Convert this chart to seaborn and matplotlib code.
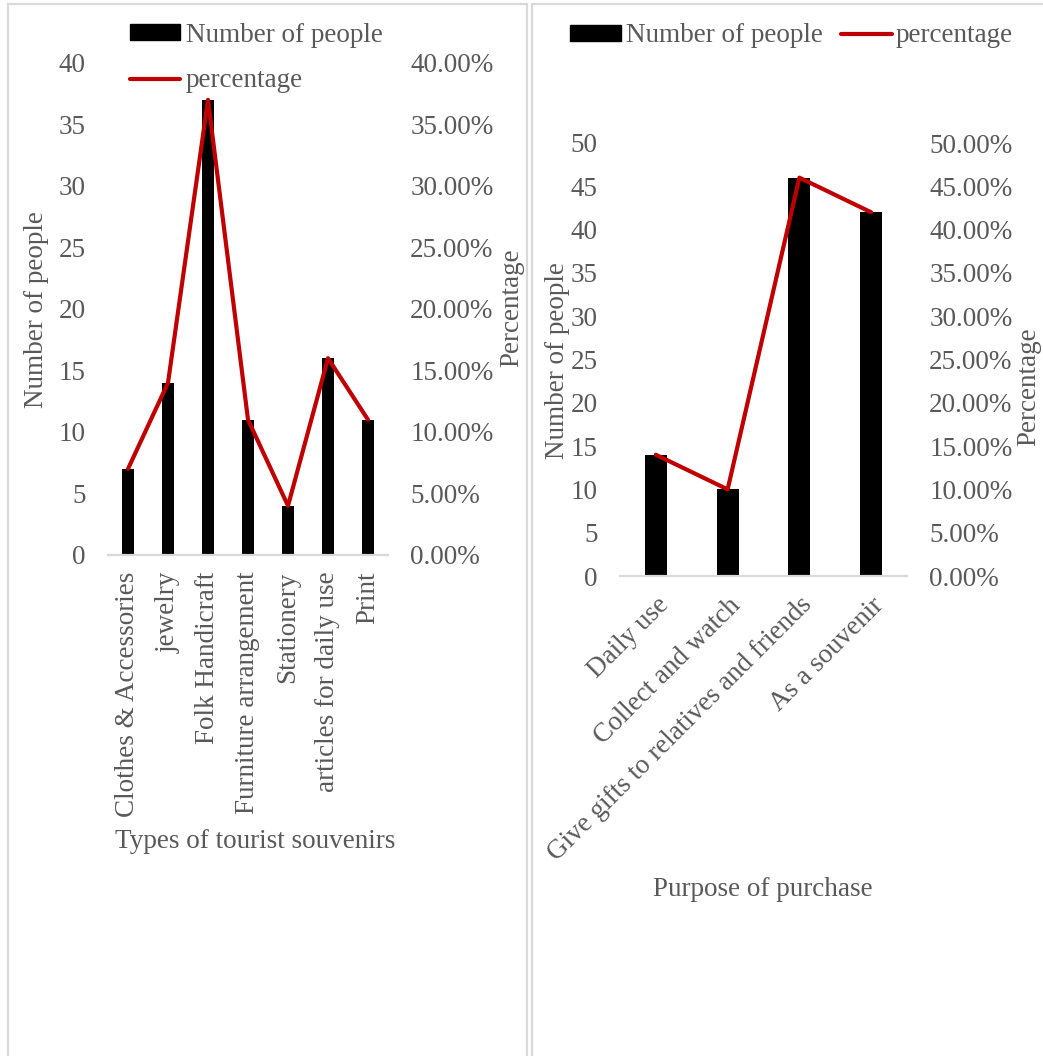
import numpy as np
import matplotlib.pyplot as plt
import seaborn as sns
from matplotlib.patches import Rectangle, Patch
from matplotlib.lines import Line2D
from matplotlib.ticker import PercentFormatter

souvenir_types = ["Clothes & Accessories", "jewelry", "Folk Handicraft",
                  "Furniture arrangement", "Stationery", "articles for daily use", "Print"]
souvenir_people = [7, 14, 37, 11, 4, 16, 11]
souvenir_pct = [0.07, 0.14, 0.37, 0.11, 0.04, 0.16, 0.11]

purposes = ["Daily use", "Collect and watch", "Give gifts to relatives and friends", "As a souvenir"]
purpose_people = [14, 10, 46, 42]
purpose_pct = [0.14, 0.10, 0.46, 0.42]

sns.set_theme(style="white")
plt.rcParams['font.family'] = ['Liberation Serif', 'DejaVu Serif']
plt.rcParams['font.size'] = 19.5
grey = '#595959'
red = '#C00000'
W, H = 1043, 1056

fig = plt.figure(figsize=(W / 100, H / 100), dpi=100)

# panel frames
for x0, w in [(8, 519), (532, 530)]:
    fig.add_artist(Rectangle((x0 / W, -0.02), w / W, 1 - 4 / H + 0.02, transform=fig.transFigure,
                             fill=False, ec='#d9d9d9', lw=1.6))


def combo(rect, cats, people, pct, ymax, step, width):
    ax = fig.add_axes(rect)
    sns.barplot(x=cats, y=people, ax=ax, color='black', saturation=1, width=width, linewidth=0)
    n = len(cats)
    ax.set_xlim(-0.5, n - 0.5)
    ax.set_ylim(0, ymax)
    ax.set_yticks(np.arange(0, ymax + 1, step))
    ax2 = ax.twinx()
    sns.lineplot(x=np.arange(n), y=pct, ax=ax2, color=red, lw=3.0, solid_capstyle='round')
    ax2.set_ylim(0, ymax / 100)
    ax2.set_yticks(np.arange(0, ymax + 1, step) / 100)
    ax2.yaxis.set_major_formatter(PercentFormatter(1, decimals=2))
    for a in (ax, ax2):
        for s in a.spines.values():
            s.set_visible(False)
        a.tick_params(length=0, colors=grey, labelsize=19.5)
        a.set_xlabel('')
        a.set_ylabel('')
    ax.spines['bottom'].set_visible(True)
    ax.spines['bottom'].set_color('#d9d9d9')
    ax.spines['bottom'].set_linewidth(1.6)
    ax.tick_params(axis='y', pad=16)
    ax2.tick_params(axis='y', pad=16)
    return ax, ax2


# left panel
axL, axL2 = combo([108 / W, 1 - 555 / H, 280 / W, 492 / H], souvenir_types, souvenir_people,
                  souvenir_pct, 40, 5, 0.29)
axL.tick_params(axis='x', pad=12)
plt.setp(axL.get_xticklabels(), rotation=90)

# right panel
axR, axR2 = combo([620 / W, 1 - 576 / H, 287 / W, 433 / H], purposes, purpose_people,
                  purpose_pct, 50, 5, 0.31)
axR.tick_params(axis='x', pad=12)
plt.setp(axR.get_xticklabels(), rotation=45, ha='right', va='top', rotation_mode='anchor')

# axis titles
fig.text(37 / W, 1 - 310 / H, 'Number of people', rotation=90, ha='center', va='center', color=grey)
fig.text(512 / W, 1 - 308 / H, 'Percentage', rotation=90, ha='center', va='center', color=grey)
fig.text(557 / W, 1 - 361 / H, 'Number of people', rotation=90, ha='center', va='center', color=grey)
fig.text(1029 / W, 1 - 387 / H, 'Percentage', rotation=90, ha='center', va='center', color=grey)
fig.text(255 / W, 1 - 841 / H, 'Types of tourist souvenirs', ha='center', va='center', color=grey)
fig.text(763 / W, 1 - 890 / H, 'Purpose of purchase', ha='center', va='center', color=grey)

# legends
handles = [Patch(color='black', label='Number of people'),
           Line2D([], [], color=red, lw=3.0, solid_capstyle='round', label='percentage')]
fig.legend(handles=handles, loc='center left', bbox_to_anchor=(130 / W, 1 - 58 / H), frameon=False,
           borderpad=0, borderaxespad=0, handlelength=1.85, handleheight=0.5, handletextpad=0.22,
           labelspacing=0.77, labelcolor=grey, fontsize=19.5)
fig.legend(handles=handles, loc='center left', bbox_to_anchor=(570 / W, 1 - 36 / H), frameon=False,
           ncol=2, borderpad=0, borderaxespad=0, handlelength=1.9, handleheight=0.5, handletextpad=0.15,
           columnspacing=0.67, labelcolor=grey, fontsize=19.5)

fig.savefig('out.png', dpi=100)
